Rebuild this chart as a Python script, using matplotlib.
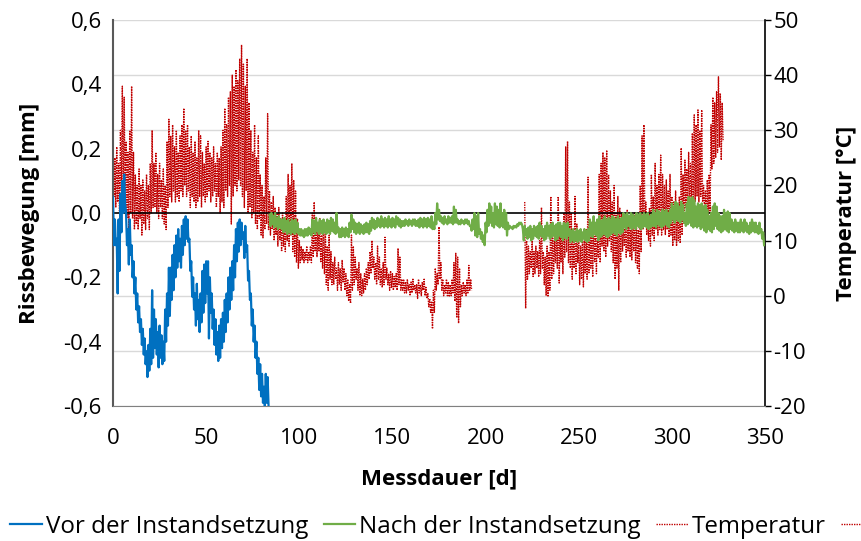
import numpy as np
import matplotlib.pyplot as plt
from matplotlib.ticker import FuncFormatter

plt.rcParams['font.family'] = ['Open Sans', 'DejaVu Sans']
plt.rcParams['axes.unicode_minus'] = False

# Rissbewegung vor der Instandsetzung [mm], Tageshoch/-tief ab Tag 0
vor_hi = [0.05, -0.02, -0.08, -0.02, 0.06, 0.1, 0.12, 0.0, -0.05, -0.02,
          -0.1, -0.15, -0.2, -0.25, -0.29, -0.33, -0.36, -0.39, -0.43, -0.41,
          -0.36, -0.24, -0.3, -0.33, -0.37, -0.35, -0.38, -0.4, -0.3, -0.25,
          -0.17, -0.17, -0.13, -0.1, -0.07, -0.05, -0.08, -0.04, -0.02, -0.01,
          -0.02, -0.08, -0.15, -0.2, -0.25, -0.22, -0.27, -0.25, -0.18, -0.16,
          -0.15, -0.15, -0.2, -0.25, -0.3, -0.33, -0.37, -0.35, -0.33, -0.31,
          -0.27, -0.25, -0.2, -0.17, -0.15, -0.1, -0.05, -0.03, -0.02, -0.03,
          -0.06, -0.04, -0.1, -0.18, -0.25, -0.3, -0.35, -0.4, -0.45, -0.47,
          -0.5, -0.54, -0.5, -0.51]
vor_lo = [-0.1, -0.1, -0.25, -0.18, -0.06, 0.0, 0.03, -0.1, -0.16, -0.13,
          -0.2, -0.25, -0.3, -0.34, -0.37, -0.41, -0.44, -0.47, -0.51, -0.49,
          -0.47, -0.45, -0.42, -0.44, -0.48, -0.45, -0.47, -0.46, -0.4, -0.35,
          -0.32, -0.27, -0.24, -0.2, -0.17, -0.15, -0.17, -0.13, -0.1, -0.08,
          -0.09, -0.18, -0.26, -0.3, -0.35, -0.33, -0.37, -0.34, -0.31, -0.28,
          -0.25, -0.39, -0.31, -0.36, -0.41, -0.44, -0.46, -0.45, -0.42, -0.4,
          -0.37, -0.34, -0.3, -0.27, -0.24, -0.2, -0.15, -0.12, -0.1, -0.08,
          -0.14, -0.12, -0.21, -0.27, -0.35, -0.4, -0.45, -0.5, -0.55, -0.57,
          -0.59, -0.6, -0.59, -0.6]

# Rissbewegung nach der Instandsetzung [mm], ab Tag 84
nach_hi = [-0.005, 0.0, -0.01, 0.0, -0.015, -0.01, -0.02, -0.02, -0.015, -0.025,
           -0.02, -0.03, -0.02, -0.025, -0.02, -0.03, -0.05, -0.05, -0.055, -0.05,
           -0.05, -0.045, -0.05, -0.02, -0.025, -0.015, -0.03, -0.02, -0.025, -0.02,
           -0.03, -0.02, -0.025, -0.015, -0.02, -0.03, 0.0, -0.045, -0.05, -0.045,
           -0.05, -0.045, -0.05, -0.03, -0.005, -0.02, -0.03, -0.035, -0.03, -0.035,
           -0.04, -0.035, -0.03, -0.035, -0.025, -0.015, -0.02, -0.025, -0.015, -0.02,
           -0.01, -0.02, -0.015, -0.02, -0.01, -0.02, -0.015, -0.02, -0.01, -0.015,
           -0.02, -0.025, -0.025, -0.02, -0.025, -0.02, -0.025, -0.02, -0.02, -0.025,
           -0.02, -0.015, -0.02, -0.015, -0.02, -0.015, -0.02, -0.01, -0.03, 0.0,
           0.03, 0.01, -0.01, -0.015, -0.01, -0.02, -0.01, -0.015, -0.01, 0.02,
           0.01, -0.02, -0.025, -0.02, -0.025, -0.02, -0.02, -0.025, -0.04, -0.02,
           0.0, -0.01, 0.0, -0.05, -0.06, -0.07, -0.03, 0.01, 0.03, 0.02,
           0.0, 0.03, 0.02, 0.01, 0.03, 0.0, 0.01, 0.0, -0.03, -0.04,
           -0.045, -0.04, -0.04, -0.035, -0.03, -0.03, -0.05, -0.04, -0.05, -0.045,
           -0.04, -0.05, -0.04, -0.045, -0.04, -0.03, -0.04, -0.05, -0.04, -0.03,
           -0.04, -0.035, -0.03, -0.04, -0.035, -0.03, -0.03, -0.04, -0.03, -0.035,
           -0.03, -0.05, -0.055, -0.05, -0.06, -0.05, -0.055, -0.05, -0.06, -0.05,
           -0.055, -0.05, -0.02, -0.03, -0.01, -0.03, -0.02, -0.01, -0.025, -0.02,
           -0.01, -0.02, -0.015, -0.02, -0.01, -0.015, -0.02, -0.01, -0.02, -0.015,
           0.0, -0.005, 0.0, -0.01, 0.0, -0.005, -0.01, 0.0, -0.005, 0.0,
           -0.01, 0.0, -0.005, 0.0, -0.01, -0.005, 0.01, 0.0, 0.01, 0.005,
           0.0, 0.01, 0.005, 0.01, 0.0, 0.01, 0.03, 0.02, 0.035, 0.03,
           0.02, 0.035, 0.025, 0.0, 0.03, 0.05, 0.045, 0.05, 0.04, 0.02,
           0.03, 0.025, 0.03, 0.02, 0.025, 0.01, -0.01, 0.0, 0.02, 0.03,
           0.02, 0.0, -0.01, -0.01, 0.01, 0.0, 0.005, 0.0, -0.02, -0.03,
           -0.02, -0.03, -0.03, -0.02, -0.03, -0.02, -0.03, -0.04, -0.03, -0.02,
           -0.03, -0.03, -0.04, -0.03, -0.05, -0.06]
nach_lo = [-0.04, -0.035, -0.045, -0.04, -0.05, -0.045, -0.05, -0.06, -0.055, -0.065,
           -0.06, -0.065, -0.06, -0.065, -0.06, -0.065, -0.07, -0.07, -0.075, -0.07,
           -0.07, -0.065, -0.07, -0.06, -0.065, -0.055, -0.065, -0.06, -0.065, -0.06,
           -0.065, -0.06, -0.065, -0.055, -0.06, -0.065, -0.06, -0.075, -0.075, -0.07,
           -0.075, -0.07, -0.075, -0.06, -0.05, -0.06, -0.065, -0.06, -0.065, -0.06,
           -0.065, -0.06, -0.06, -0.065, -0.055, -0.045, -0.05, -0.045, -0.04, -0.045,
           -0.04, -0.045, -0.04, -0.045, -0.04, -0.045, -0.04, -0.045, -0.035, -0.04,
           -0.045, -0.04, -0.04, -0.035, -0.04, -0.035, -0.04, -0.035, -0.04, -0.04,
           -0.045, -0.04, -0.045, -0.04, -0.045, -0.04, -0.045, -0.05, -0.05, -0.035,
           -0.02, -0.025, -0.03, -0.035, -0.03, -0.035, -0.03, -0.03, -0.035, -0.03,
           -0.03, -0.035, -0.035, -0.03, -0.035, -0.03, -0.035, -0.04, -0.055, -0.05,
           -0.07, -0.075, -0.065, -0.08, -0.09, -0.1, -0.06, -0.04, -0.03, -0.04,
           -0.045, -0.035, -0.04, -0.045, -0.04, -0.045, -0.05, -0.07, -0.05, -0.045,
           -0.05, -0.045, -0.045, -0.04, -0.035, -0.035, -0.085, -0.07, -0.08, -0.075,
           -0.085, -0.08, -0.07, -0.075, -0.08, -0.07, -0.075, -0.085, -0.08, -0.07,
           -0.08, -0.075, -0.07, -0.085, -0.08, -0.07, -0.075, -0.085, -0.075, -0.08,
           -0.07, -0.09, -0.085, -0.09, -0.085, -0.09, -0.085, -0.09, -0.08, -0.085,
           -0.09, -0.085, -0.07, -0.075, -0.065, -0.07, -0.085, -0.075, -0.07, -0.065,
           -0.07, -0.075, -0.07, -0.065, -0.06, -0.065, -0.07, -0.06, -0.065, -0.06,
           -0.045, -0.05, -0.04, -0.045, -0.05, -0.045, -0.05, -0.04, -0.045, -0.05,
           -0.045, -0.04, -0.045, -0.05, -0.045, -0.04, -0.04, -0.045, -0.035, -0.04,
           -0.045, -0.04, -0.035, -0.04, -0.045, -0.03, -0.02, -0.03, -0.02, -0.025,
           -0.03, -0.02, -0.03, -0.04, -0.035, -0.03, -0.04, -0.045, -0.04, -0.045,
           -0.04, -0.05, -0.045, -0.055, -0.06, -0.05, -0.055, -0.06, -0.05, -0.04,
           -0.05, -0.055, -0.06, -0.055, -0.05, -0.055, -0.06, -0.05, -0.055, -0.06,
           -0.055, -0.06, -0.06, -0.055, -0.06, -0.055, -0.06, -0.065, -0.06, -0.055,
           -0.06, -0.06, -0.065, -0.06, -0.08, -0.1]

# Temperatur [°C], Tagesmaximum/-minimum
temp1_hi = [29, 25, 27, 24, 30, 38, 36, 28, 26, 30,
            38, 26, 22, 20, 23, 20, 21, 19, 22, 20,
            24, 30, 24, 26, 22, 24, 21, 23, 20, 28,
            32, 29, 31, 27, 30, 26, 29, 31, 34, 30,
            31, 27, 29, 26, 28, 25, 30, 29, 26, 24,
            27, 28, 26, 25, 27, 24, 26, 25, 27, 30,
            34, 31, 36, 37, 40, 38, 41, 39, 43, 45.5,
            42, 38, 43, 35, 30, 26, 31, 25, 29, 22,
            20, 18, 25, 33, 19, 17, 18, 16, 15, 16,
            14, 15, 13, 18, 22, 20, 24, 21, 19, 14,
            10, 9, 8.5, 8, 9, 8, 9, 15, 17, 13,
            12, 14, 11, 13, 12, 9, 11, 8, 6, 7,
            5, 6, 5, 6.5, 5, 4, 3, 2, 11, 9,
            7, 5, 6, 4, 3, 4, 5, 6, 8, 10,
            7, 6, 9, 7, 5, 6, 10.6, 5, 4, 4.5,
            4, 3.5, 4, 8.6, 7, 3, 3, 2.5, 3, 2,
            2.5, 3, 2, 2, 3, 2, 2.5, 3, 1.5, 0.5,
            -0.5, -1, 1, 5, 4, 12.5, 6, 3, 2, 3,
            2.5, 2, 3, 6, 7.7, 7, 5, 2, 2.5, 2,
            3, 5.5, 3]
temp1_lo = [18, 16, 17, 15, 19, 16, 18, 14, 12, 15,
            14, 12, 13, 12, 14, 11, 13, 12, 14, 12,
            15, 16, 16, 15, 14, 16, 14, 13, 12, 16,
            18, 17, 19, 17, 18, 17, 19, 18, 20, 18,
            19, 16, 18, 17, 16, 17, 18, 16, 18, 17,
            18, 19, 17, 18, 19, 16, 18, 15, 17, 16,
            19, 18, 20, 13, 18, 20, 19, 21, 20, 18,
            16, 19, 15, 16, 14, 15, 13, 12, 14, 11,
            10.5, 12, 13, 12, 11, 12, 10, 11, 9, 10,
            8, 9, 8, 10, 9, 11, 8, 7, 6, 5,
            6, 6.5, 6, 6.5, 6, 6.5, 6, 7, 8, 7,
            8, 6, 5, 4, 2, 1, 3, 2, 2, 3,
            1, 2, 1, 2.5, 1, 0, -1, -1.4, 1, 2,
            3, 1, 0, 0, 0.5, 1, 2, 3, 4, 5,
            3, 2, 3, 2, 1.5, 2, 3, 2, 1, 1.5,
            1, 1.5, 1, 2, 1, 1, 0.5, 0.5, 1, 0,
            0.5, 1, 0.5, -0.5, 0.5, 0, 1, 0, -0.5, -2,
            -3, -6, -3, 1, 2, 3, 1, 0, 0.5, 0,
            -0.2, 0, 0.5, -1, -4, -5, -2, 0, 0.5, 0,
            0.5, 1, 1]
temp2_hi = [17, 10, 9, 8, 10, 8, 9, 8, 10, 16,
            8, 7, 9, 8, 18, 12, 10, 12, 18, 11,
            12, 15, 27, 28, 17, 15, 12, 18, 13, 10,
            9, 11, 10, 12, 21.5, 13, 12, 14, 11, 13,
            22, 24, 26, 25, 26.4, 22, 19, 17, 20, 15,
            18, 16, 15, 13, 14, 15.5, 13, 12, 14, 15,
            13, 12, 20, 29, 31, 17, 15, 16, 22, 18,
            24, 20, 22, 25.5, 22, 20, 21, 19, 22, 18,
            17, 19, 16, 18, 26.8, 22, 24.6, 23, 26, 24,
            29.5, 32.8, 31, 33.7, 30, 33.7, 20, 19, 21, 22,
            31, 36, 35, 37, 39.7, 36.7, 35]
temp2_lo = [-2.3, 3, 4, 5, 3.5, 4, 5, 3.4, 4, 5,
            2, 0, -0.2, 1, 3, 4, 6, 5, 2.3, 6,
            4, 7, 8, 6, 5, 3, 5, 4, 6, 2,
            3, 1.6, 4, 3, 4, 5, 3.4, 6, 4, 7,
            6, 9, 8, 7, 9, 10, 8, 6, 3, 5,
            1, 6, 8, 9, 7, 8, 7, 6.5, 8, 6,
            5, 4, 8, 12, 13, 11, 10, 9, 11, 10,
            12, 11, 12, 11, 12, 11, 12, 10.6, 11, 9,
            10, 9, 10, 9.5, 11, 13, 16, 15.5, 16, 15.5,
            15, 17, 18, 17, 18, 17, 15, 14, 14, 15,
            23, 24, 25, 26, 27, 24.6, 28]

vor_start, nach_start, temp1_start, temp2_start = 0, 84, 0, 221

legend_labels = ["Vor der Instandsetzung", "Nach der Instandsetzung", "Temperatur", ""]


def zigzag(start, hi, lo):
    # Tagesmaximum und -minimum abwechselnd aneinanderreihen
    days = start + np.arange(len(hi))
    x = np.column_stack([days, days + 0.5]).ravel()
    y = np.column_stack([hi, lo]).ravel()
    return x, y


fig = plt.figure(figsize=(8.62, 5.41), dpi=100)
ax1 = fig.add_axes([0.1311, 0.2495, 0.7564, 0.7135])
ax2 = ax1.twinx()

ax1.set_zorder(ax2.get_zorder() + 1)
ax1.patch.set_visible(False)

blue = '#0070C0'
green = '#70AD47'
red = '#C00000'

x, y = zigzag(vor_start, vor_hi, vor_lo)
l1, = ax1.plot(x, y, color=blue, lw=1.6, zorder=3)
x, y = zigzag(nach_start, nach_hi, nach_lo)
l2, = ax1.plot(x, y, color=green, lw=1.6, zorder=3)
x, y = zigzag(temp1_start, temp1_hi, temp1_lo)
l3, = ax2.plot(x, y, color=red, lw=1.0, ls=(0, (1, 0.8)))
x, y = zigzag(temp2_start, temp2_hi, temp2_lo)
ax2.plot(x, y, color=red, lw=1.0, ls=(0, (1, 0.8)))

ax1.axhline(0, color='black', lw=1.2, zorder=2)

ax1.set_xlim(0, 350)
ax1.set_ylim(-0.6, 0.6)
ax2.set_ylim(-20, 50)
ax1.set_xticks(np.arange(0, 351, 50))
ax1.set_yticks(np.arange(-0.6, 0.61, 0.2))
ax2.set_yticks(np.arange(-20, 51, 10))
ax1.yaxis.set_major_formatter(FuncFormatter(lambda v, p: f"{v:.1f}".replace('.', ',').replace('-0,0', '0,0')))

ax2.grid(True, color='#d9d9d9', lw=1)
ax2.xaxis.grid(True, color='#d9d9d9', lw=1)
ax2.set_axisbelow(True)

for a in (ax1, ax2):
    a.spines['top'].set_visible(False)
ax1.spines['left'].set_color('#595959')
ax1.spines['left'].set_linewidth(1.5)
ax1.spines['bottom'].set_color('#808080')
ax1.spines['right'].set_visible(False)
ax2.spines['left'].set_visible(False)
ax2.spines['bottom'].set_visible(False)
ax2.spines['right'].set_color('black')
ax2.spines['right'].set_linewidth(1.2)

ax1.tick_params(axis='y', length=0, labelsize=16, pad=8)
ax1.tick_params(axis='x', length=0, labelsize=16, pad=16)
ax2.tick_params(axis='y', length=4, width=1, direction='out', labelsize=16, pad=2)

ax1.set_xlabel("Messdauer [d]", fontsize=16, fontweight='bold')
ax1.set_ylabel("Rissbewegung [mm]", fontsize=16, fontweight='bold')
ax2.set_ylabel("Temperatur [°C]", fontsize=16, fontweight='bold')
ax1.xaxis.set_label_coords(0.5, -0.161)
ax1.yaxis.set_label_coords(-0.112, 0.5)
ax2.yaxis.set_label_coords(1.109, 0.5)

leg = fig.legend([l1, l2, l3, l3], legend_labels,
                 loc='center left', bbox_to_anchor=(0.012, 0.026), ncol=4, frameon=False,
                 fontsize=17.4, handlelength=1.3, handletextpad=0.17, columnspacing=0.64,
                 borderaxespad=0, borderpad=0)

fig.savefig("out.png", dpi=100)
